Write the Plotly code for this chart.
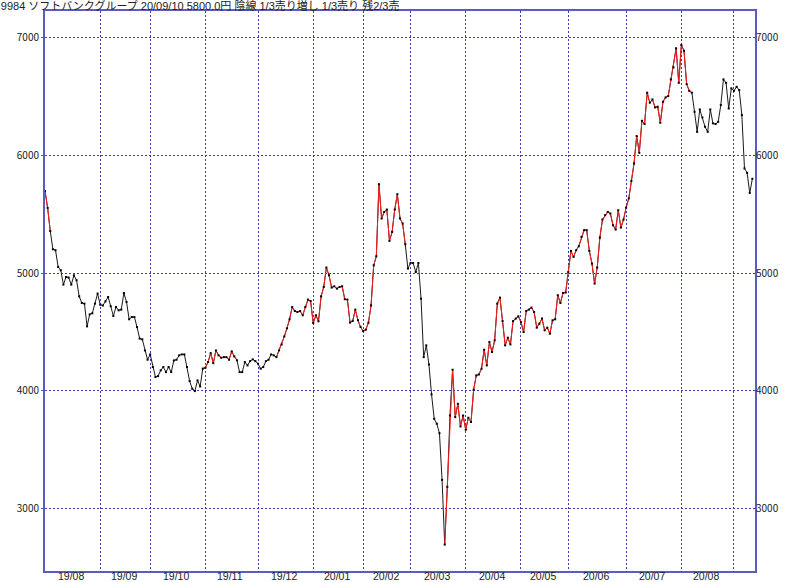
import plotly.graph_objects as go

title_text = "9984 ソフトバンクグループ 20/09/10 5800.0円 陰線 1/3売り増し 1/3売り 残2/3売"

month_labels = ["19/08", "19/09", "19/10", "19/11", "19/12", "20/01", "20/02",
                "20/03", "20/04", "20/05", "20/06", "20/07", "20/08"]
days_per_month = [21, 19, 21, 20, 21, 19, 18, 21, 21, 18, 22, 21, 20, 8]

close = [
    5697, 5553, 5357, 5202, 5194, 5052, 5024, 4902, 4967, 4962,
    4902, 4981, 4939, 4803, 4746, 4741, 4548, 4650, 4659, 4741,
    4826, 4732, 4725, 4760, 4797, 4718, 4636, 4712, 4684, 4690,
    4831, 4755, 4608, 4627, 4627, 4542, 4444, 4438, 4344, 4265,
    4310, 4203, 4118, 4126, 4175, 4203, 4160, 4203, 4160, 4259,
    4265, 4302, 4310, 4310, 4203, 4084, 4019, 3999, 4090, 4038,
    4190, 4197, 4245, 4321, 4236, 4344, 4302, 4282, 4287, 4287,
    4265, 4336, 4293, 4260, 4160, 4160, 4245, 4217, 4253, 4268,
    4253, 4231, 4189, 4203, 4253, 4265, 4310, 4302, 4287, 4344,
    4395, 4463, 4531, 4608, 4712, 4678, 4670, 4678, 4642, 4712,
    4775, 4763, 4576, 4642, 4591, 4803, 4882, 5047, 4981, 4877,
    4888, 4868, 4882, 4888, 4778, 4775, 4580, 4593, 4690, 4600,
    4542, 4508, 4520, 4580, 4726, 5066, 5143, 5754, 5463, 5519,
    5539, 5273, 5349, 5539, 5669, 5463, 5420, 5245, 5038, 5086,
    5086, 5009, 5086, 4783, 4287, 4387, 4225, 3971, 3764, 3722,
    3642, 3246, 2697, 3187, 3792, 4180, 3778, 3891, 3699, 3792,
    3671, 3773, 3736, 4010, 4132, 4140, 4189, 4350, 4217, 4415,
    4330, 4429, 4741, 4792, 4593, 4387, 4452, 4395, 4593, 4614,
    4633, 4585, 4500, 4678, 4690, 4707, 4670, 4537, 4571, 4614,
    4514, 4537, 4486, 4599, 4608, 4812, 4746, 4831, 4835, 5009,
    5188, 5137, 5194, 5228, 5307, 5364, 5364, 5188, 5081, 4911,
    5047, 5301, 5454, 5491, 5519, 5505, 5406, 5369, 5533, 5386,
    5454, 5556, 5633, 5782, 5930, 6162, 6020, 6292, 6264, 6530,
    6445, 6473, 6405, 6411, 6275, 6453, 6490, 6501, 6643, 6745,
    6907, 6614, 6935, 6886, 6603, 6546, 6530, 6368, 6198, 6388,
    6320, 6241, 6198, 6388, 6270, 6264, 6283, 6425, 6643, 6614,
    6396, 6567, 6546, 6580, 6552, 6340, 5888, 5850, 5680, 5800,
]

# index spans (inclusive) drawn in red
red_spans = [(0, 2), (61, 73), (88, 137), (152, 246)]

y_ticks = [3000, 4000, 5000, 6000, 7000]

n = len(close)
xs = list(range(n))

starts = []
s = 0
for d in days_per_month:
    starts.append(s)
    s += d
grid_x = starts[1:]
label_x = [starts[k] + days_per_month[k] / 2 - 0.5 for k in range(len(month_labels))]

GRID = "#3a3ab0"
FRAME = "#5c5cc0"
TXT = "#222222"
FONT = "Noto Sans CJK JP"
NUMFONT = "Liberation Sans"
TITLEFONT = "Liberation Sans, Noto Sans CJK JP"

fig = go.Figure()
fig.add_trace(go.Scatter(x=xs, y=close, mode="lines",
                         line=dict(color="#1a1a1a", width=1), hoverinfo="skip"))
for a, b in red_spans:
    fig.add_trace(go.Scatter(x=xs[a:b + 1], y=close[a:b + 1], mode="lines",
                             line=dict(color="#ff1a1a", width=1), hoverinfo="skip"))
fig.add_trace(go.Scatter(x=xs, y=close, mode="markers",
                         marker=dict(color="black", size=2, symbol="square",
                                     line=dict(width=0))))
fig.add_trace(go.Scatter(x=xs, y=close, mode="lines", yaxis="y2",
                         line=dict(color="rgba(0,0,0,0)", width=0), hoverinfo="skip"))

for lx, lt in zip(label_x, month_labels):
    fig.add_annotation(x=lx, xref="x", y=0, yref="paper", text=lt,
                       showarrow=False, xanchor="center", yanchor="middle",
                       yshift=-4.5, borderpad=0,
                       font=dict(family=NUMFONT, size=10.5, color=TXT))

xr = [0, 270]
yr = [2473, 7223]

fig.update_layout(
    width=800, height=582, autosize=False,
    margin=dict(l=45, r=45, t=11, b=11, autoexpand=False),
    paper_bgcolor="white", plot_bgcolor="white",
    showlegend=False,
    title=dict(text=title_text, x=0.001, xref="container", xanchor="left",
               y=1, yref="container", yanchor="top", automargin=False,
               font=dict(family=TITLEFONT, size=11, color=TXT), pad=dict(l=0, t=2)),
    xaxis=dict(range=xr, tickmode="array", tickvals=grid_x, showticklabels=False,
               showgrid=True, gridcolor=GRID, griddash="2px,2px", gridwidth=1,
               ticks="", zeroline=False, showline=True, mirror=True,
               linecolor=FRAME, linewidth=2, automargin=False),
    yaxis=dict(range=yr, tickmode="array", tickvals=y_ticks, showgrid=True,
               gridcolor=GRID, griddash="2px,2px", gridwidth=1,
               ticks="outside", ticklen=2, tickcolor=FRAME, zeroline=False,
               showline=True, mirror=True, linecolor=FRAME, linewidth=2,
               automargin=False,
               tickfont=dict(family=FONT, size=10, color=TXT)),
    yaxis2=dict(range=yr, overlaying="y", side="right", tickmode="array",
                tickvals=y_ticks, showgrid=False, ticks="", zeroline=False,
                showline=False, automargin=False,
                tickfont=dict(family=FONT, size=10, color=TXT)),
)

fig.write_html("out.html", config={"displayModeBar": False},
               post_script="document.body.style.margin='0px';document.body.style.padding='0px';")
